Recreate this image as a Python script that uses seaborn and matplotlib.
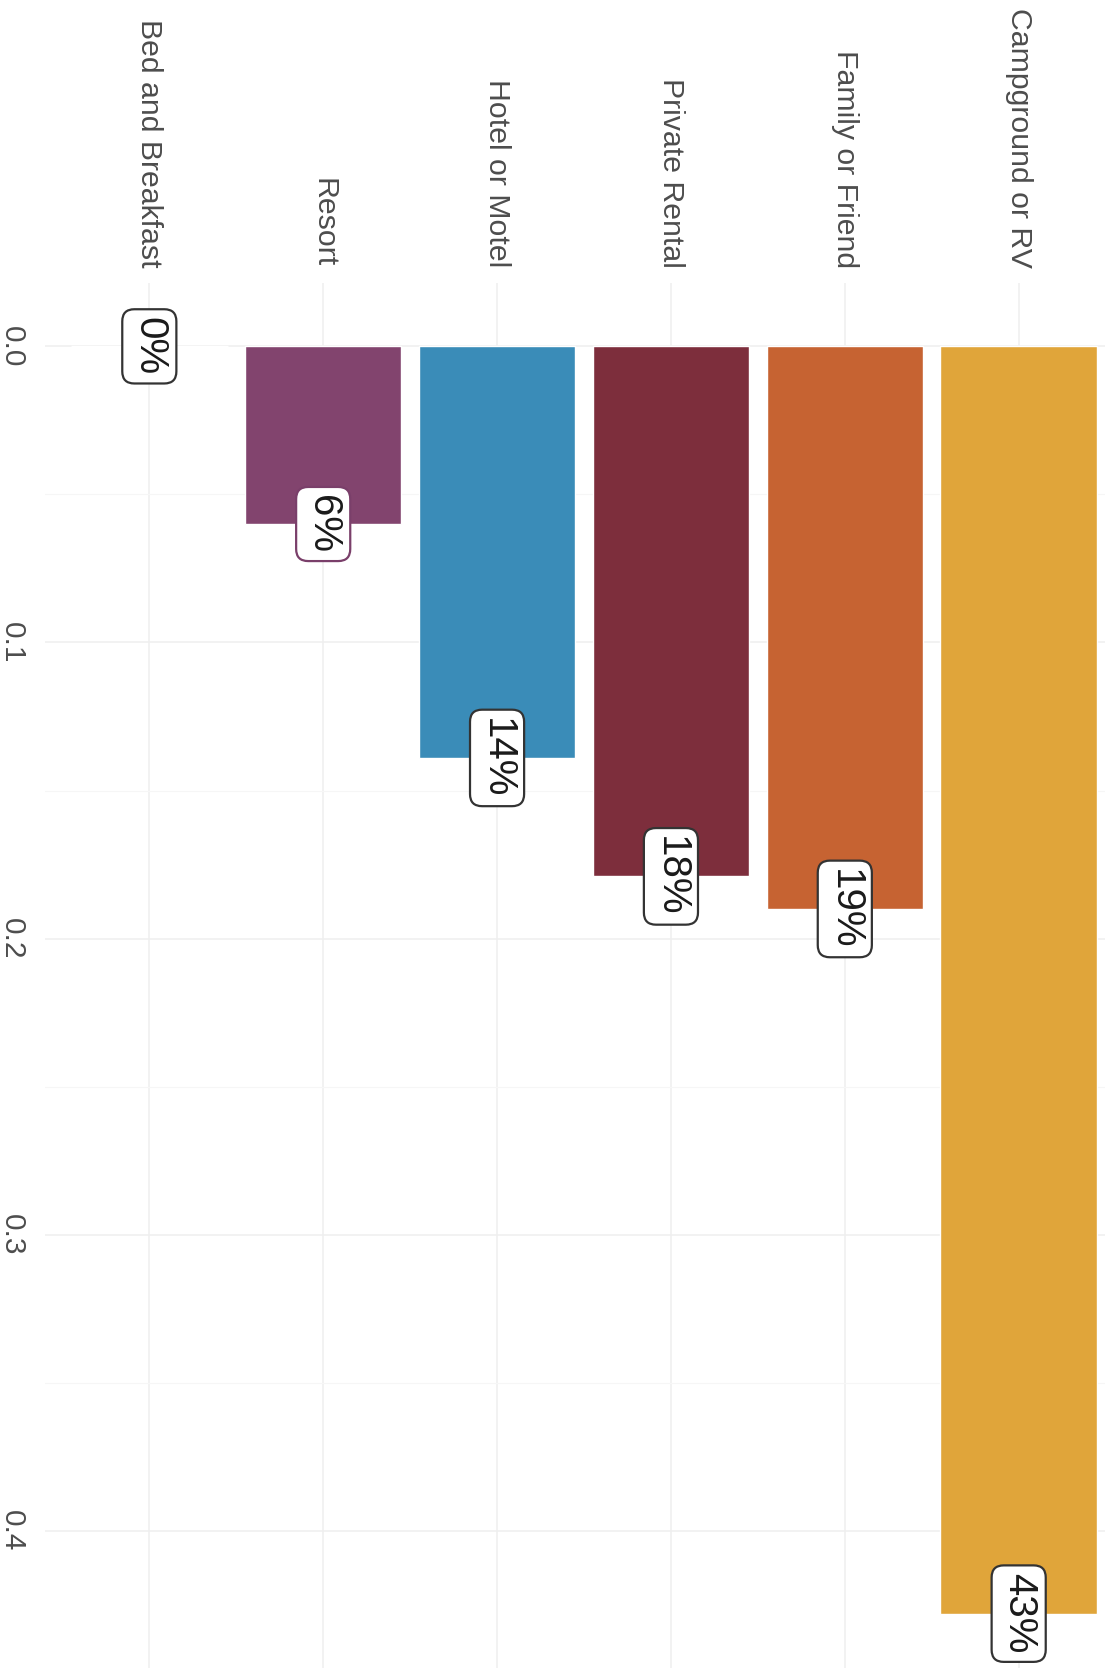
import matplotlib
matplotlib.use("Agg")
import matplotlib.pyplot as plt
import seaborn as sns
import pandas as pd
import numpy as np
from matplotlib.ticker import MultipleLocator

categories = ["Bed and Breakfast", "Resort", "Hotel or Motel", "Private Rental",
              "Family or Friend", "Campground or RV"]
shares = [0.0, 0.060, 0.139, 0.179, 0.190, 0.428]
labels = ["0%", "6%", "14%", "18%", "19%", "43%"]
colors = ["#8A4A78", "#82446E", "#3A8CB8", "#7D2E3C", "#C66332", "#E0A53A"]
label_edges = ["#333333", "#7A3F6A", "#333333", "#333333", "#333333", "#333333"]
value_ticks = [0.0, 0.1, 0.2, 0.3, 0.4]
value_tick_labels = ["0.0", "0.1", "0.2", "0.3", "0.4"]

sns.set_theme(style="white")
plt.rcParams["font.family"] = ["Liberation Sans", "DejaVu Sans"]

df = pd.DataFrame({"cat": categories, "share": shares})

W, H = 1105, 1668
fig = plt.figure(figsize=(W / 100, H / 100), dpi=100)
fig.patch.set_facecolor("white")
left = 45 / W
right = 1123 / W
top = 1 - 283 / H
bottom = 1 - 1677 / H
ax = fig.add_axes([left, bottom, right - left, top - bottom])

sns.barplot(data=df, x="cat", y="share", hue="cat", palette=colors,
            order=categories, hue_order=categories, width=0.9,
            legend=False, ax=ax, zorder=2, saturation=1)

ax.set_xlim(-0.6, len(categories) - 0.4)
ax.set_ylim(0.428 + 0.0214, -0.0214)

ax.set_yticks(value_ticks)
ax.set_yticklabels(value_tick_labels, rotation=-90, va="center", ha="right",
                   fontsize=21.5, color="#4D4D4D")
ax.yaxis.set_minor_locator(MultipleLocator(0.05))
ax.xaxis.tick_top()
ax.set_xticks(range(len(categories)))
ax.set_xticklabels(categories, rotation=-90, va="bottom", ha="center",
                   fontsize=21.8, color="#4D4D4D")
ax.tick_params(axis="y", length=0, pad=14, which="both")
ax.tick_params(axis="x", length=0, pad=11)
ax.set_xlabel("")
ax.set_ylabel("")

ax.grid(True, which="major", color="#EFEFEF", linewidth=1.1, zorder=0)
ax.grid(True, which="minor", axis="y", color="#F6F6F6", linewidth=0.8, zorder=0)
ax.set_axisbelow(True)
for s in ax.spines.values():
    s.set_visible(False)

for i, (v, lab, ec) in enumerate(zip(shares, labels, label_edges)):
    ax.text(i, v, lab, rotation=-90, ha="center", va="center",
            fontsize=29, color="#1A1A1A", zorder=5,
            bbox=dict(boxstyle="round,pad=0.2,rounding_size=0.3",
                      facecolor="white", edgecolor=ec, linewidth=1.6))

fig.savefig("out.png", dpi=100, facecolor="white")
